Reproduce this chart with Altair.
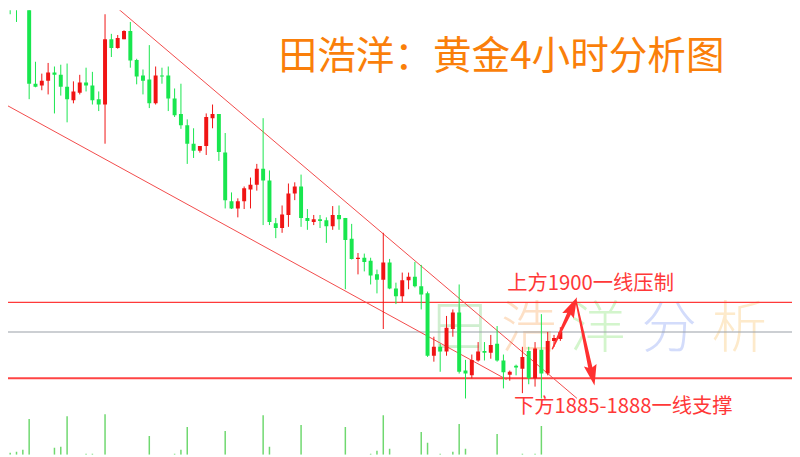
import altair as alt
import pandas as pd

# ---- candle data (4-hour gold, prices) ----
opens = [1946.0, 1953.8, 1952.5, 1950.2, 1951.5, 1936.8, 1936.5, 1937.3, 1938.7, 1938.3,
         1936.3, 1934.0, 1935.3, 1937.0, 1936.5, 1934.2, 1933.3, 1944.3, 1942.8, 1944.3,
         1945.7, 1940.8, 1938.2, 1937.5, 1933.5, 1938.2, 1938.2, 1934.3, 1931.7, 1929.8,
         1926.7, 1925.5, 1926.3, 1931.0, 1931.7, 1925.2, 1917.0, 1915.8, 1917.0, 1919.0,
         1919.8, 1922.5, 1920.5, 1913.3, 1912.5, 1914.7, 1918.3, 1919.5, 1914.2, 1913.5,
         1914.0, 1913.8, 1912.8, 1914.7, 1914.2, 1910.7, 1907.3, 1907.5, 1907.0, 1904.7,
         1903.8, 1906.7, 1902.3, 1901.0, 1903.7, 1904.3, 1902.7, 1901.5, 1891.0, 1892.5,
         1891.7, 1895.5, 1898.3, 1888.5, 1887.7, 1890.2, 1891.8, 1891.5, 1893.0, 1890.2,
         1887.8, 1889.3, 1888.8, 1891.8, 1887.2, 1892.0, 1888.0, 1893.5, 1893.8]
highs = [1952.2, 1954.7, 1953.0, 1951.8, 1952.2, 1940.5, 1938.5, 1940.3, 1939.7, 1940.0,
         1940.2, 1937.2, 1938.3, 1939.5, 1938.8, 1935.5, 1948.5, 1945.2, 1945.0, 1945.8,
         1947.2, 1941.0, 1939.2, 1943.3, 1939.7, 1939.5, 1939.7, 1936.0, 1936.8, 1930.8,
         1929.3, 1926.3, 1931.8, 1933.3, 1931.7, 1928.5, 1918.5, 1917.5, 1919.5, 1921.0,
         1923.3, 1931.0, 1922.2, 1914.2, 1916.3, 1920.0, 1920.2, 1921.5, 1915.7, 1914.7,
         1914.7, 1914.3, 1916.2, 1916.3, 1914.2, 1913.2, 1908.3, 1908.2, 1907.5, 1905.5,
         1911.7, 1907.3, 1903.3, 1905.0, 1905.0, 1906.8, 1906.3, 1901.8, 1894.2, 1893.0,
         1897.7, 1898.8, 1903.0, 1890.3, 1891.2, 1893.3, 1893.3, 1894.5, 1896.0, 1891.2,
         1888.5, 1889.5, 1892.5, 1892.5, 1893.3, 1898.0, 1895.0, 1894.5, 1895.8]
lows = [1946.0, 1948.5, 1947.2, 1950.0, 1934.2, 1936.2, 1935.7, 1935.0, 1931.8, 1934.8,
        1930.3, 1933.5, 1935.0, 1935.5, 1933.3, 1932.2, 1926.7, 1941.3, 1942.7, 1944.3,
        1939.5, 1936.7, 1935.0, 1932.7, 1933.3, 1936.8, 1932.2, 1931.2, 1929.2, 1923.3,
        1924.3, 1925.2, 1924.8, 1929.3, 1923.8, 1915.8, 1915.7, 1914.3, 1915.7, 1915.8,
        1918.8, 1913.0, 1913.0, 1910.8, 1911.7, 1912.7, 1917.2, 1912.7, 1912.2, 1913.0,
        1912.5, 1910.0, 1912.2, 1912.2, 1902.2, 1907.2, 1904.7, 1905.2, 1903.0, 1901.5,
        1895.5, 1902.2, 1899.7, 1900.0, 1902.2, 1902.5, 1898.8, 1890.8, 1890.0, 1888.3,
        1891.0, 1894.2, 1888.0, 1883.8, 1887.2, 1890.0, 1890.2, 1890.5, 1890.0, 1885.5,
        1886.8, 1887.7, 1884.7, 1886.2, 1885.8, 1883.8, 1887.7, 1892.5, 1893.5]
closes = [1951.5, 1951.2, 1950.2, 1951.2, 1936.8, 1936.3, 1937.3, 1938.7, 1938.3, 1936.3,
          1934.2, 1935.5, 1937.0, 1936.5, 1934.0, 1933.3, 1944.3, 1942.8, 1944.5, 1945.7,
          1940.7, 1938.0, 1937.3, 1933.5, 1938.2, 1938.0, 1934.3, 1931.5, 1929.8, 1926.7,
          1925.5, 1926.3, 1931.2, 1931.7, 1925.3, 1917.2, 1915.8, 1917.0, 1919.2, 1919.8,
          1922.5, 1920.5, 1913.5, 1912.5, 1914.8, 1918.3, 1919.5, 1914.2, 1913.7, 1914.0,
          1913.7, 1912.8, 1914.7, 1914.0, 1910.5, 1907.3, 1907.5, 1906.8, 1904.5, 1903.8,
          1906.7, 1902.3, 1901.0, 1903.7, 1904.3, 1902.7, 1901.3, 1891.0, 1892.5, 1891.7,
          1895.7, 1898.3, 1888.3, 1888.0, 1890.3, 1891.7, 1891.5, 1892.8, 1890.2, 1888.2,
          1888.3, 1889.0, 1890.8, 1887.2, 1892.2, 1888.0, 1893.5, 1894.0, 1895.0]
bar_index = list(range(len(opens)))

# ---- lower indicator bars ----
vol_index = [1, 2, 3, 4, 8, 9, 10, 13, 14, 16, 23, 27, 28, 29, 35, 41, 42, 47, 54, 58, 59,
             60, 61, 66, 67, 69, 71, 72, 73, 78, 82, 84, 85]
vol_value = [2, 3, 5, 36, 7, 8, 39, 1, 1, 41, 19, 1, 5, 28, 24, 40, 8, 30, 28, 1, 4,
             40, 6, 23, 12, 1, 3, 31, 6, 21, 1, 1, 29]

# ---- levels and trend channel ----
resistance = 1900.0
support = 1887.2
current = 1895.0
upper_x = [16.89, 90.62]
upper_y = [1950.5, 1883.83]
lower_x = [0.2, 79.49]
lower_y = [1933.33, 1887.0]

# ---- texts ----
title_text = "田浩洋：黄金4小时分析图"
note_up = "上方1900一线压制"
note_down = "下方1885-1888一线支撑"
wm_chars = ["田", "浩", "洋", "分", "析"]
wm_x = [72.1, 83.0, 93.9, 105.2, 116.3]
wm_colors = ["#cfeecf", "#fde0c6", "#d3f5cc", "#d3dcfb", "#fdeacb"]

RED = "#f01414"
GREEN = "#18e64e"
XDOM = [1.437, 123.85]
YDOM = [1874.33, 1949.17]
W, H = 792, 449

xs = alt.Scale(domain=XDOM, nice=False, zero=False)
ys = alt.Scale(domain=YDOM, nice=False, zero=False)

candles = pd.DataFrame({"i": bar_index, "open": opens, "high": highs,
                        "low": lows, "close": closes})
col = alt.condition("datum.close >= datum.open", alt.value(RED), alt.value(GREEN))

base = alt.Chart(candles)
wicks = base.mark_rule(strokeWidth=1, clip=True).encode(
    x=alt.X("i:Q", scale=xs, axis=None),
    y=alt.Y("low:Q", scale=ys, axis=None),
    y2="high:Q",
    color=col,
)
bodies = base.mark_bar(size=4, clip=True).encode(
    x=alt.X("i:Q", scale=xs, axis=None),
    y=alt.Y("open:Q", scale=ys, axis=None),
    y2="close:Q",
    color=col,
)

vol = alt.Chart(pd.DataFrame({"i": vol_index, "v": vol_value})).mark_bar(
    size=1.5, color="#6fd86f", clip=True).encode(
    x=alt.X("i:Q", scale=xs, axis=None),
    y=alt.Y("v:Q", scale=alt.Scale(domain=[0, 449], nice=False), axis=None),
)

levels = pd.DataFrame({"p": [resistance, support, current],
                       "c": ["#ff3a3a", "#ff4444", "#9aa0a8"],
                       "w": [1.2, 2.0, 1.2]})
hlines = alt.Chart(levels).mark_rule(clip=True).encode(
    y=alt.Y("p:Q", scale=ys, axis=None),
    color=alt.Color("c:N", scale=None),
    strokeWidth=alt.StrokeWidth("w:Q", scale=None),
)

chan = pd.DataFrame({"x": upper_x + lower_x, "y": upper_y + lower_y,
                     "g": ["u", "u", "l", "l"]})
channel = alt.Chart(chan).mark_line(color="#f24a4a", strokeWidth=1, clip=True).encode(
    x=alt.X("x:Q", scale=xs, axis=None),
    y=alt.Y("y:Q", scale=ys, axis=None),
    detail="g:N",
)

wm = alt.Chart(pd.DataFrame({"t": wm_chars, "x": wm_x, "c": wm_colors,
                             "y": [1895.3] * 5})).mark_text(
    font="Noto Sans CJK SC", fontSize=56, fontWeight=300, baseline="middle",
    align="center").encode(
    x=alt.X("x:Q", scale=xs, axis=None),
    y=alt.Y("y:Q", scale=ys, axis=None),
    text="t:N",
    color=alt.Color("c:N", scale=None),
)

title = alt.Chart(pd.DataFrame({"t": [title_text], "x": [78.7], "y": [1941.2]})).mark_text(
    font="Noto Sans CJK SC", fontSize=39, color="#fa7f0a", align="center",
    baseline="middle").encode(
    x=alt.X("x:Q", scale=xs, axis=None),
    y=alt.Y("y:Q", scale=ys, axis=None),
    text="t:N",
)

notes = alt.Chart(pd.DataFrame({"t": [note_up, note_down], "x": [92.78, 97.95],
                                "y": [1903.0, 1882.3]})).mark_text(
    font="Noto Sans CJK SC", fontSize=20.5, color="#ff3838", align="center",
    baseline="middle").encode(
    x=alt.X("x:Q", scale=xs, axis=None),
    y=alt.Y("y:Q", scale=ys, axis=None),
    text="t:N",
)

trail_df = pd.DataFrame({
    "x": [86.75, 89.85, 90.46, 92.94],
    "y": [1892.17, 1899.17, 1900.33, 1888.0],
    "w": [1.5, 4.5, 1.5, 4.5],
    "g": ["up", "up", "down", "down"],
    "o": [0, 1, 0, 1],
})
trails = alt.Chart(trail_df).mark_trail(color="#ff3030", clip=True).encode(
    x=alt.X("x:Q", scale=xs, axis=None),
    y=alt.Y("y:Q", scale=ys, axis=None),
    size=alt.Size("w:Q", scale=None),
    detail="g:N",
    order="o:Q",
)
heads_df = pd.DataFrame({"x": [89.75, 92.98], "y": [1898.9, 1888.12], "a": [26, 168]})
heads = alt.Chart(heads_df).mark_point(
    shape="M0,-1L0.5,0.6L0,0.35L-0.5,0.6Z", size=676, filled=True,
    color="#ff3030", opacity=1).encode(
    x=alt.X("x:Q", scale=xs, axis=None),
    y=alt.Y("y:Q", scale=ys, axis=None),
    angle=alt.Angle("a:Q", scale=None),
)

chart = alt.layer(vol, wm, hlines, channel, wicks, bodies, title, notes, trails, heads).resolve_scale(
    y="independent"
).properties(
    width=W, height=H, padding=0,
    autosize=alt.AutoSizeParams(type="fit", contains="padding"),
    background="white",
).configure_view(strokeWidth=0)

chart.save("out.html", embed_options={"renderer": "svg", "actions": False})
